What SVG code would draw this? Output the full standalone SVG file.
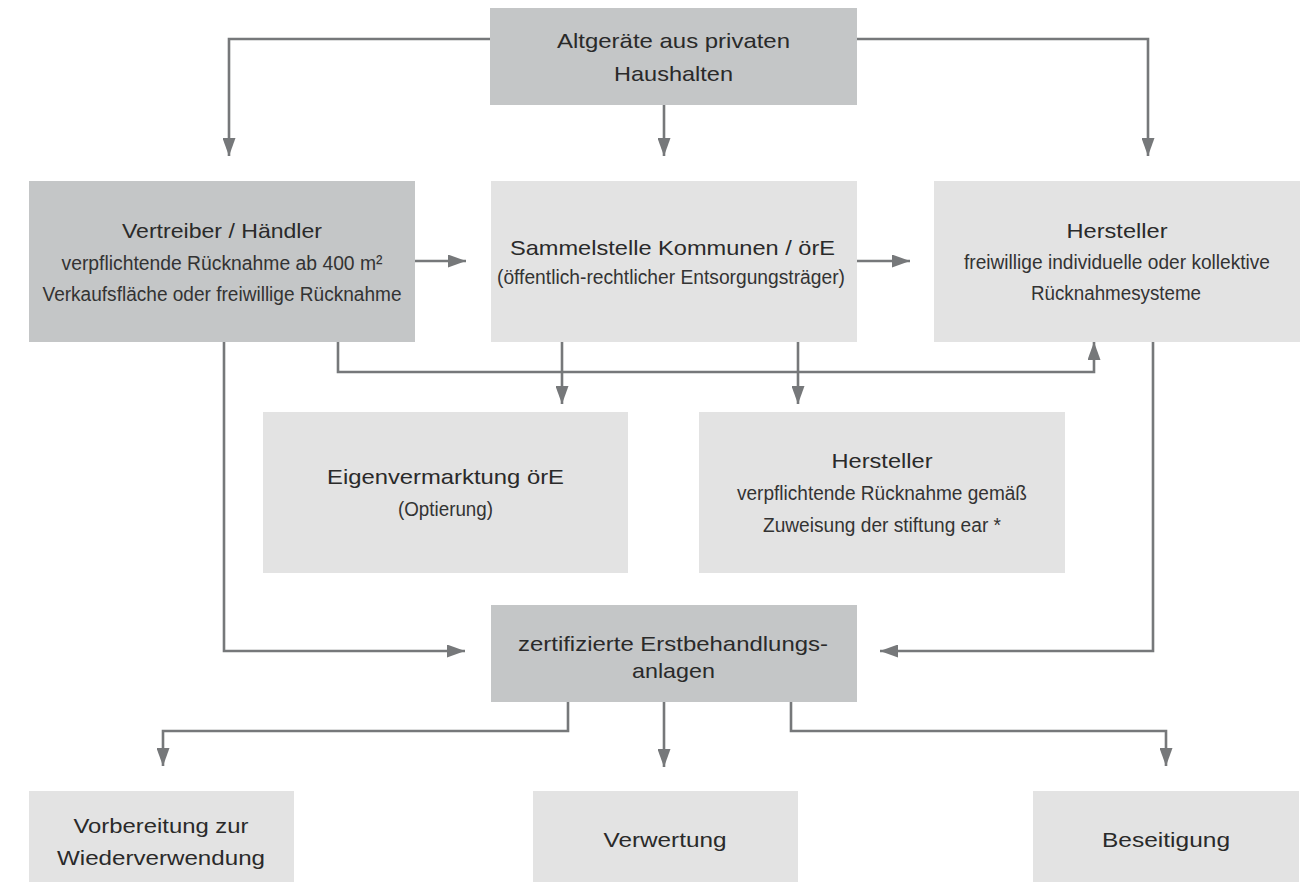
<svg xmlns="http://www.w3.org/2000/svg" width="1309" height="882" viewBox="0 0 1309 882">
  <style>
    .dark { fill: #c4c6c7; }
    .light { fill: #e3e3e3; }
    .t { font-family: "Liberation Sans", Arial, sans-serif; font-size: 21px; fill: #2a2a2a; text-anchor: middle; }
    .s { font-family: "Liberation Sans", Arial, sans-serif; font-size: 20px; fill: #333333; text-anchor: middle; }
    .c { fill: none; stroke: #76787a; stroke-width: 2.6; marker-end: url(#ah); }
  </style>
  <defs>
    <marker id="ah" viewBox="0 0 18 13" refX="18" refY="6.5" markerWidth="18" markerHeight="13" markerUnits="userSpaceOnUse" orient="auto">
      <path d="M0,0 L18,6.5 L0,13 z" fill="#76787a"/>
    </marker>
  </defs>
  <rect width="1309" height="882" fill="#ffffff"/>

  <g id="connectors">
    <path class="c" d="M490,39 H229 V156"/>
    <path class="c" d="M664,105 V156"/>
    <path class="c" d="M857,39 H1148 V156"/>
    <path class="c" d="M415,261 H466"/>
    <path class="c" d="M857,261 H910"/>
    <path class="c" d="M338,342 V372 H1094 V342"/>
    <path class="c" d="M562,342 V404"/>
    <path class="c" d="M798,342 V404"/>
    <path class="c" d="M224,342 V651 H465"/>
    <path class="c" d="M1153,342 V651 H880"/>
    <path class="c" d="M568,702 V731 H163 V766"/>
    <path class="c" d="M664,702 V767"/>
    <path class="c" d="M791,702 V731 H1166 V766"/>
  </g>

  <g id="altgeraete">
    <rect class="dark" x="490" y="8" width="367" height="97"/>
    <text class="t" x="673.5" y="48" textLength="233" lengthAdjust="spacingAndGlyphs">Altgeräte aus privaten</text>
    <text class="t" x="673.5" y="81" textLength="119" lengthAdjust="spacingAndGlyphs">Haushalten</text>
  </g>

  <g id="vertreiber">
    <rect class="dark" x="29" y="181" width="386" height="161"/>
    <text class="t" x="222" y="238" textLength="200" lengthAdjust="spacingAndGlyphs">Vertreiber / Händler</text>
    <text class="s" x="222" y="270" textLength="321" lengthAdjust="spacingAndGlyphs">verpflichtende Rücknahme ab 400 m²</text>
    <text class="s" x="222" y="301" textLength="359" lengthAdjust="spacingAndGlyphs">Verkaufsfläche oder freiwillige Rücknahme</text>
  </g>

  <g id="sammelstelle">
    <rect class="light" x="491" y="181" width="366" height="161"/>
    <text class="t" x="672.5" y="255" textLength="325" lengthAdjust="spacingAndGlyphs">Sammelstelle Kommunen / örE</text>
    <text class="s" x="671" y="284" textLength="348" lengthAdjust="spacingAndGlyphs">(öffentlich-rechtlicher Entsorgungsträger)</text>
  </g>

  <g id="hersteller-freiwillig">
    <rect class="light" x="934" y="181" width="366" height="161"/>
    <text class="t" x="1117" y="238" textLength="101" lengthAdjust="spacingAndGlyphs">Hersteller</text>
    <text class="s" x="1117" y="269" textLength="306" lengthAdjust="spacingAndGlyphs">freiwillige individuelle oder kollektive</text>
    <text class="s" x="1116" y="300" textLength="170" lengthAdjust="spacingAndGlyphs">Rücknahmesysteme</text>
  </g>

  <g id="eigenvermarktung">
    <rect class="light" x="263" y="412" width="365" height="161"/>
    <text class="t" x="445.5" y="484" textLength="237" lengthAdjust="spacingAndGlyphs">Eigenvermarktung örE</text>
    <text class="s" x="445.5" y="516" textLength="95" lengthAdjust="spacingAndGlyphs">(Optierung)</text>
  </g>

  <g id="hersteller-pflicht">
    <rect class="light" x="699" y="412" width="366" height="161"/>
    <text class="t" x="882" y="468" textLength="101" lengthAdjust="spacingAndGlyphs">Hersteller</text>
    <text class="s" x="882" y="500" textLength="290" lengthAdjust="spacingAndGlyphs">verpflichtende Rücknahme gemäß</text>
    <text class="s" x="882" y="532" textLength="238" lengthAdjust="spacingAndGlyphs">Zuweisung der stiftung ear *</text>
  </g>

  <g id="erstbehandlung">
    <rect class="dark" x="491" y="605" width="366" height="97"/>
    <text class="t" x="673" y="651" textLength="310" lengthAdjust="spacingAndGlyphs">zertifizierte Erstbehandlungs-</text>
    <text class="t" x="673.5" y="678" textLength="83" lengthAdjust="spacingAndGlyphs">anlagen</text>
  </g>

  <g id="vorbereitung">
    <rect class="light" x="29" y="791" width="265" height="91"/>
    <text class="t" x="161" y="833" textLength="175" lengthAdjust="spacingAndGlyphs">Vorbereitung zur</text>
    <text class="t" x="161" y="865" textLength="208" lengthAdjust="spacingAndGlyphs">Wiederverwendung</text>
  </g>

  <g id="verwertung">
    <rect class="light" x="533" y="791" width="265" height="91"/>
    <text class="t" x="665" y="847" textLength="123" lengthAdjust="spacingAndGlyphs">Verwertung</text>
  </g>

  <g id="beseitigung">
    <rect class="light" x="1033" y="791" width="266" height="91"/>
    <text class="t" x="1166" y="847" textLength="128" lengthAdjust="spacingAndGlyphs">Beseitigung</text>
  </g>
</svg>
